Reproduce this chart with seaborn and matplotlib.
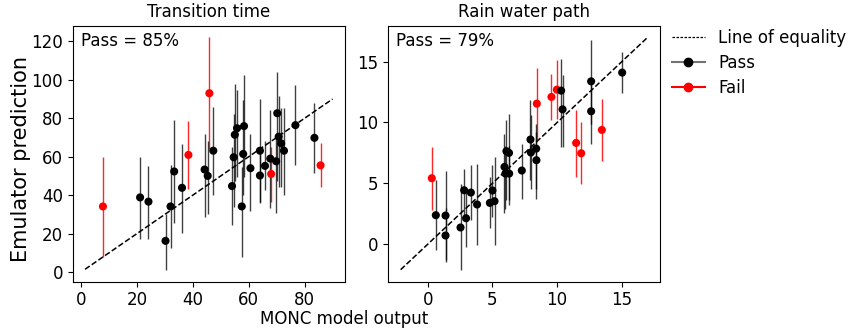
#!/usr/bin/env python
'''
Emulator vs MONC scatter with error bars, two panels.
'''

import numpy as np
import pandas as pd
import seaborn as sns
from matplotlib import pyplot as plt
from matplotlib.lines import Line2D

# Transition time panel
tt_obs = [7.8, 38.4, 45.9, 68.0, 85.7,
          21.1, 24.1, 30.2, 32.0, 33.3, 36.1, 44.2, 45.3, 47.3, 54.0, 54.6, 55.0, 55.8,
          57.5, 58.0, 58.3, 60.6, 64.0, 64.0, 65.8, 67.7, 69.8, 70.2, 70.7, 71.6, 72.6,
          76.7, 83.5]
tt_pred = [34.1, 60.9, 93.0, 51.0, 55.5,
           38.8, 36.6, 16.2, 34.1, 52.3, 43.8, 53.3, 50.0, 63.1, 44.7, 59.7, 71.4, 74.8,
           34.1, 61.4, 75.9, 54.0, 63.1, 50.2, 55.2, 59.0, 57.6, 82.6, 70.4, 66.9, 63.1,
           76.4, 69.8]
tt_hi = [60.0, 78.6, 122.1, 65.2, 67.1,
         60.0, 55.4, 30.4, 55.9, 79.0, 66.6, 71.7, 68.0, 85.9, 64.8, 82.1, 97.9, 94.5,
         54.5, 89.5, 102.4, 71.7, 89.9, 65.0, 68.3, 84.2, 70.0, 104.1, 91.6, 85.5, 85.2,
         97.1, 88.1]
tt_lo = [7.9, 43.3, 64.0, 36.4, 44.1,
         17.1, 17.1, 1.0, 12.6, 25.7, 20.5, 28.6, 30.0, 40.2, 24.3, 33.8, 47.6, 49.3,
         7.9, 40.2, 49.3, 31.7, 36.4, 36.0, 42.4, 33.5, 30.9, 47.6, 44.1, 44.1, 40.2,
         55.9, 51.6]
tt_status = ['Fail'] * 5 + ['Pass'] * 28
tt_line = [1.4, 90.0]

# Rain water path panel
rwp_obs = [0.31, 8.43, 9.56, 9.98, 11.47, 11.86, 13.46,
           0.62, 1.37, 1.37, 2.53, 2.81, 2.96, 3.33, 3.81, 4.80, 5.00, 5.16, 5.93, 6.00,
           6.08, 6.28, 6.29, 7.27, 7.94, 7.97, 8.38, 8.40, 10.31, 10.42, 12.63, 12.63, 15.03]
rwp_pred = [5.42, 11.55, 12.10, 12.70, 8.32, 7.47, 9.39,
            2.38, 2.35, 0.71, 1.37, 4.43, 2.13, 4.24, 3.26, 3.39, 4.41, 3.53, 6.35, 5.80,
            7.64, 7.50, 5.80, 6.05, 8.60, 7.53, 7.85, 6.90, 12.62, 11.08, 13.38, 10.92, 14.10]
rwp_hi = [7.99, 14.50, 14.00, 15.10, 11.06, 10.00, 11.96,
          5.25, 6.02, 3.00, 4.98, 6.21, 4.40, 6.49, 6.57, 5.53, 6.49, 7.17, 9.09, 8.10,
          10.18, 10.67, 8.10, 8.27, 11.82, 10.60, 9.91, 9.20, 15.24, 13.90, 16.75, 13.40, 15.79]
rwp_lo = [2.79, 8.60, 10.20, 10.30, 5.53, 4.93, 6.84,
          -0.49, -1.30, -1.45, -2.13, 2.40, -0.22, 1.97, -0.08, 1.29, 2.24, -0.08, 2.57, 2.90,
          3.61, 3.60, 3.20, 3.75, 5.25, 4.57, 4.57, 3.75, 7.99, 7.99, 9.91, 8.27, 12.42]
rwp_status = ['Fail'] * 7 + ['Pass'] * 26
rwp_line = [-2.1, 17.0]

panels = [
    ('Transition time', tt_obs, tt_pred, tt_lo, tt_hi, tt_status, tt_line),
    ('Rain water path', rwp_obs, rwp_pred, rwp_lo, rwp_hi, rwp_status, rwp_line),
]

plt.rcParams['font.size'] = 12
fig = plt.figure(figsize=(8.48, 3.34), dpi=100)
ax1 = fig.add_axes([0.0857, 0.1566, 0.3211, 0.7665])
ax2 = fig.add_axes([0.4579, 0.1566, 0.3204, 0.7665])

palette = {'Pass': 'black', 'Fail': 'red'}
bar_colour = {'Pass': (0, 0, 0, 0.75), 'Fail': (1, 0, 0, 0.85)}

for ax, (title, obs, pred, lo, hi, status, line) in zip([ax1, ax2], panels):
    df = pd.DataFrame({'obs': obs, 'pred': pred, 'lo': lo, 'hi': hi, 'status': status})
    sns.lineplot(x=line, y=line, ax=ax, color='black', linestyle='--', linewidth=1.1)
    for st, grp in df.groupby('status'):
        err = np.array([grp['pred'] - grp['lo'], grp['hi'] - grp['pred']])
        ax.errorbar(grp['obs'], grp['pred'], yerr=err, fmt='none',
                    ecolor=bar_colour[st], elinewidth=1)
    sns.scatterplot(data=df, x='obs', y='pred', hue='status', palette=palette,
                    s=34, linewidth=0, ax=ax, legend=False, zorder=3)
    n_pass = (df['status'] == 'Pass').sum()
    ax.text(0.03, 0.975, 'Pass = %d%%' % round(100 * n_pass / len(df)),
            transform=ax.transAxes, va='top', ha='left')
    ax.set_title(title, fontsize=12)
    ax.set_xlabel('')
    ax.set_ylabel('')
    ax.tick_params(labelsize=12)

ax1.set_xticks([0, 20, 40, 60, 80])
ax1.set_yticks([0, 20, 40, 60, 80, 100, 120])
ax2.set_xticks([0, 5, 10, 15])
ax2.set_yticks([0, 5, 10, 15])

handles = [
    Line2D([], [], color='black', linestyle=(0, (2, 1.2)), linewidth=0.9),
    Line2D([], [], color='0.45', marker='o', markersize=6,
           markerfacecolor='black', markeredgecolor='black'),
    Line2D([], [], color='red', marker='o', markersize=6),
]
ax2.legend(handles, ['Line of equality', 'Pass', 'Fail'], loc='upper left',
           bbox_to_anchor=(0.988, 1.045), frameon=False, fontsize=12,
           labelspacing=0.42)

fig.text(344 / 848, 0.045, 'MONC model output', ha='center', va='center', fontsize=12)
fig.text(0.025, 0.525, 'Emulator prediction', ha='center', va='center',
         rotation=90, fontsize=15)

plt.savefig('out.png', dpi=100)
